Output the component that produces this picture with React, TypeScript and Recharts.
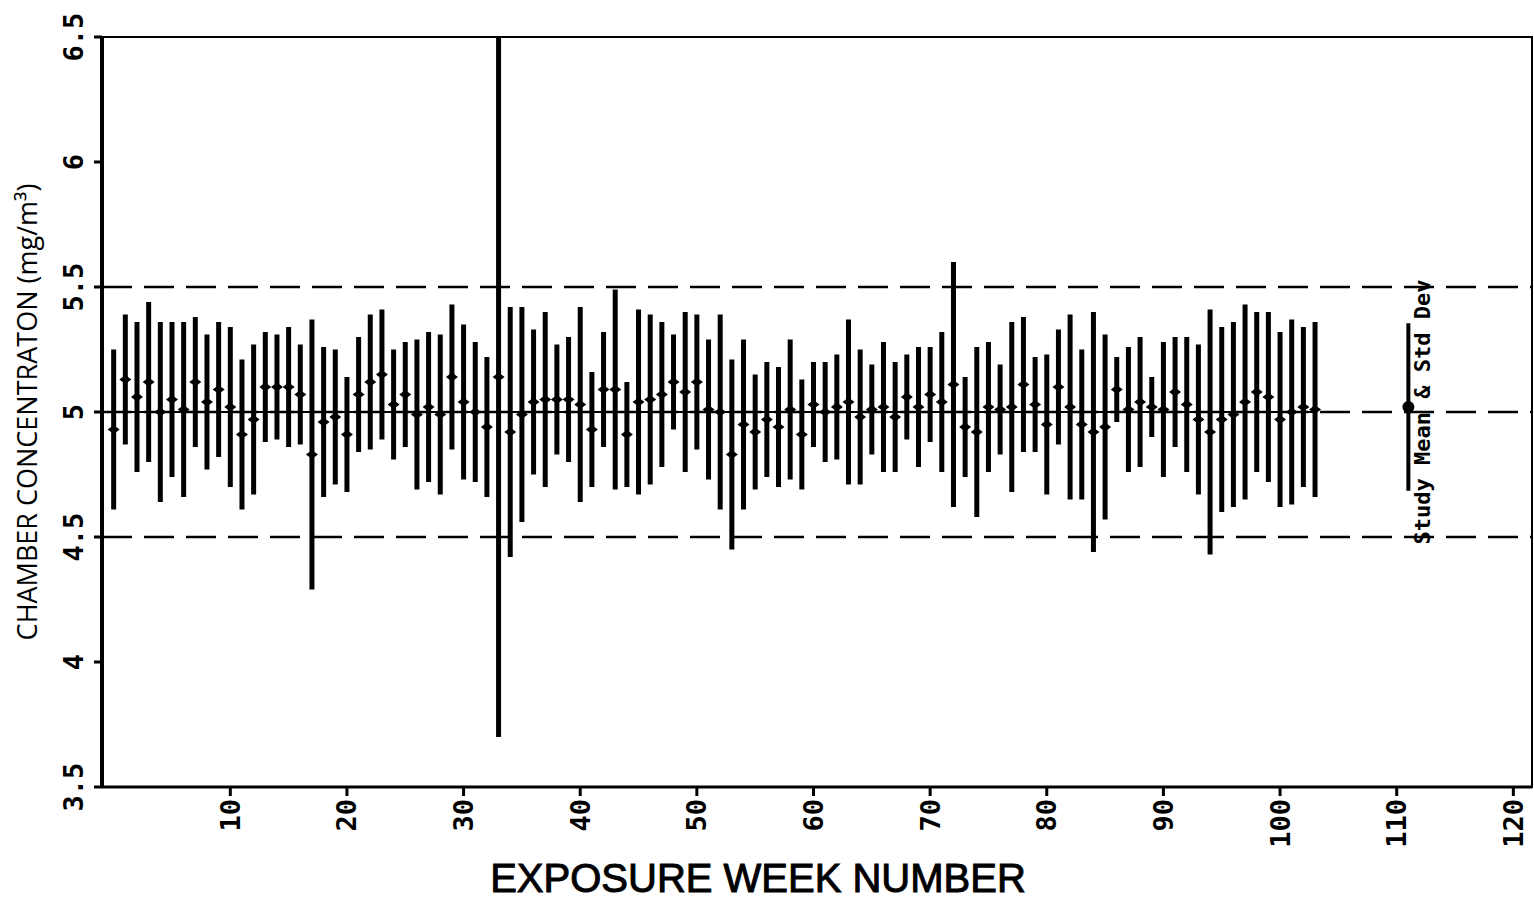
import React from 'react';
import {
  ComposedChart,
  Scatter,
  ErrorBar,
  XAxis,
  YAxis,
  ReferenceLine,
  ReferenceArea,
  ReferenceDot,
  Label,
} from 'recharts';

// exposure weeks as plotted
const weeks = [
  0, 1, 2, 3, 4, 5, 6, 7, 8, 9,
  10, 11, 12, 13, 14, 15, 16, 17, 18, 19,
  20, 21, 22, 23, 24, 25, 26, 27, 28, 29,
  30, 31, 32, 33, 34, 35, 36, 37, 38, 39,
  40, 41, 42, 43, 44, 45, 46, 47, 48, 49,
  50, 51, 52, 53, 54, 55, 56, 57, 58, 59,
  60, 61, 62, 63, 64, 65, 66, 67, 68, 69,
  70, 71, 72, 73, 74, 75, 76, 77, 78, 79,
  80, 81, 82, 83, 84, 85, 86, 87, 88, 89,
  90, 91, 92, 93, 94, 95, 96, 97, 98, 99,
  100, 101, 102, 103,
];

// weekly mean chamber concentration (mg/m3)
const weeklyMeans = [
  4.93, 5.13, 5.06, 5.12, 5.0, 5.05, 5.01, 5.12, 5.04, 5.09,
  5.02, 4.91, 4.97, 5.1, 5.1, 5.1, 5.07, 4.83, 4.96, 4.98,
  4.91, 5.07, 5.12, 5.15, 5.03, 5.07, 4.99, 5.02, 4.99, 5.14,
  5.04, 5.0, 4.94, 5.14, 4.92, 4.99, 5.04, 5.05, 5.05, 5.05,
  5.03, 4.93, 5.09, 5.09, 4.91, 5.04, 5.05, 5.07, 5.12, 5.08,
  5.12, 5.01, 5.0, 4.83, 4.95, 4.92, 4.97, 4.94, 5.01, 4.91,
  5.03, 5.0, 5.02, 5.04, 4.98, 5.01, 5.02, 4.98, 5.06, 5.02,
  5.07, 5.04, 5.11, 4.94, 4.92, 5.02, 5.01, 5.02, 5.11, 5.03,
  4.95, 5.1, 5.02, 4.95, 4.92, 4.94, 5.09, 5.01, 5.04, 5.02,
  5.01, 5.08, 5.03, 4.97, 4.92, 4.97, 4.99, 5.04, 5.08, 5.06,
  4.97, 5.0, 5.02, 5.01,
];

// weekly standard deviation
const weeklyStdDevs = [
  0.32, 0.26, 0.3, 0.32, 0.36, 0.31, 0.35, 0.26, 0.27, 0.27,
  0.32, 0.3, 0.3, 0.22, 0.21, 0.24, 0.2, 0.54, 0.3, 0.27,
  0.23, 0.23, 0.27, 0.26, 0.22, 0.21, 0.3, 0.3, 0.32, 0.29,
  0.31, 0.28, 0.28, 1.44, 0.5, 0.43, 0.29, 0.35, 0.22, 0.25,
  0.39, 0.23, 0.23, 0.4, 0.21, 0.37, 0.34, 0.29, 0.19, 0.32,
  0.27, 0.28, 0.39, 0.38, 0.34, 0.23, 0.23, 0.24, 0.28, 0.22,
  0.17, 0.2, 0.21, 0.33, 0.27, 0.18, 0.26, 0.22, 0.17, 0.24,
  0.19, 0.28, 0.49, 0.2, 0.34, 0.26, 0.18, 0.34, 0.27, 0.19,
  0.28, 0.23, 0.37, 0.3, 0.48, 0.37, 0.13, 0.25, 0.26, 0.12,
  0.27, 0.22, 0.27, 0.3, 0.49, 0.37, 0.37, 0.39, 0.32, 0.34,
  0.35, 0.37, 0.32, 0.35,
];

const studyWeek = [111];
const studyMean = [5.02];
const studyStdDev = [0.335];

const targetLevel = 5;
const limitLines = [4.5, 5, 5.5];
const xTicks = [10, 20, 30, 40, 50, 60, 70, 80, 90, 100, 110, 120];
const yTicks = [3.5, 4, 4.5, 5, 5.5, 6, 6.5];
const xDomain = [-1, 121.6];
const yDomain = [3.5, 6.5];

const weeklyData = weeks.map((week, i) => ({
  week,
  mean: weeklyMeans[i],
  sd: weeklyStdDevs[i],
}));

const studyData = studyWeek.map((week, i) => ({
  week,
  mean: studyMean[i],
  sd: studyStdDev[i],
}));

// the plot frame cuts bars off at the axis limits, like the original plotter did
const clippedError = (d: any) => [
  Math.min(d.sd, d.mean - yDomain[0]),
  Math.min(d.sd, yDomain[1] - d.mean),
];

const tickFont = '"DejaVu Sans Mono", monospace';

const Diamond = (props: any) => {
  const { cx, cy } = props;
  if (cx == null || cy == null) return null;
  return (
    <polygon
      points={`${cx - 6},${cy} ${cx},${cy - 4.5} ${cx + 6},${cy} ${cx},${cy + 4.5}`}
      fill="#000"
    />
  );
};

const StudyDot = (props: any) => {
  const { cx, cy } = props;
  if (cx == null || cy == null) return null;
  return <circle cx={cx} cy={cy} r={6} fill="#000" />;
};

const XTick = ({ x, y, payload }: any) => (
  <text
    x={x}
    y={y + 1}
    transform={`rotate(-90, ${x}, ${y + 1})`}
    textAnchor="end"
    dominantBaseline="central"
    fontFamily={tickFont}
    fontWeight="bold"
    fontSize={27}
    fill="#000"
  >
    {payload.value}
  </text>
);

const YTick = ({ y, payload }: any) => (
  <text
    x={73}
    y={y}
    transform={`rotate(-90, 73, ${y})`}
    textAnchor="middle"
    dominantBaseline="central"
    fontFamily={tickFont}
    fontWeight="bold"
    fontSize={27}
    fill="#000"
  >
    {payload.value}
  </text>
);

export default function App() {
  return (
    <div style={{ position: 'absolute', left: 0, top: 0, background: '#fff' }}>
      <ComposedChart
        width={1534}
        height={900}
        margin={{ top: 37, right: 2, bottom: 0, left: 0 }}
      >
        <XAxis
          type="number"
          dataKey="week"
          domain={xDomain}
          allowDataOverflow
          ticks={xTicks}
          interval={0}
          height={113}
          axisLine={{ stroke: '#000', strokeWidth: 3 }}
          tickLine={{ stroke: '#000', strokeWidth: 3 }}
          tickSize={9}
          tick={<XTick />}
        >
          <Label
            content={({ viewBox }: any) => (
              <text
                x={viewBox.x + 656}
                y={892}
                textAnchor="middle"
                fontFamily='"Liberation Sans", Arial, sans-serif'
                fontSize={40}
                fill="#000"
                stroke="#000"
                strokeWidth={1}
              >
                EXPOSURE WEEK NUMBER
              </text>
            )}
          />
        </XAxis>
        <YAxis
          type="number"
          dataKey="mean"
          domain={yDomain}
          allowDataOverflow
          ticks={yTicks}
          interval={0}
          width={102}
          axisLine={{ stroke: '#000', strokeWidth: 4 }}
          tickLine={{ stroke: '#000', strokeWidth: 3 }}
          tickSize={8}
          tick={<YTick />}
        >
          <Label
            content={({ viewBox }: any) => {
              const cx = viewBox.x + 26;
              const cy = viewBox.y + viewBox.height / 2;
              return (
                <text
                  x={cx}
                  y={cy}
                  transform={`rotate(-90, ${cx}, ${cy})`}
                  textAnchor="middle"
                  dominantBaseline="central"
                  fontFamily='"Open Sans", sans-serif'
                  fontSize={27}
                  fill="#000"
                >
                  CHAMBER CONCENTRATON (mg/m³)
                </text>
              );
            }}
          />
        </YAxis>

        <ReferenceArea
          x1={xDomain[0]}
          x2={xDomain[1]}
          y1={yDomain[0]}
          y2={yDomain[1]}
          fill="none"
          stroke="#000"
          strokeWidth={2}
        />

        {limitLines.map((v) => (
          <ReferenceLine
            key={v}
            y={v}
            stroke="#000"
            strokeWidth={2.5}
            strokeDasharray="30 12"
          />
        ))}
        <ReferenceLine
          segment={[
            { x: weeks[0], y: targetLevel },
            { x: weeks[weeks.length - 1], y: targetLevel },
          ]}
          stroke="#000"
          strokeWidth={2}
        />

        <Scatter
          data={weeklyData}
          dataKey="mean"
          shape={<Diamond />}
          isAnimationActive={false}
        >
          <ErrorBar
            dataKey={clippedError}
            direction="y"
            width={0}
            stroke="#000"
            strokeWidth={5}
            isAnimationActive={false}
          />
        </Scatter>

        <Scatter
          data={studyData}
          dataKey="mean"
          shape={<StudyDot />}
          isAnimationActive={false}
        >
          <ErrorBar
            dataKey="sd"
            direction="y"
            width={0}
            stroke="#000"
            strokeWidth={4}
            isAnimationActive={false}
          />
        </Scatter>

        <ReferenceDot
          x={112.25}
          y={targetLevel}
          r={0}
          fill="none"
          stroke="none"
          label={({ viewBox }: any) => {
            const cx = viewBox.x + viewBox.width / 2;
            const cy = viewBox.y + viewBox.height / 2;
            return (
              <text
                x={cx}
                y={cy}
                transform={`rotate(-90, ${cx}, ${cy})`}
                textAnchor="middle"
                dominantBaseline="central"
                fontFamily={tickFont}
                fontWeight="bold"
                fontSize={22}
                fill="#000"
              >
                Study Mean &amp; Std Dev
              </text>
            );
          }}
        />
      </ComposedChart>
    </div>
  );
}
